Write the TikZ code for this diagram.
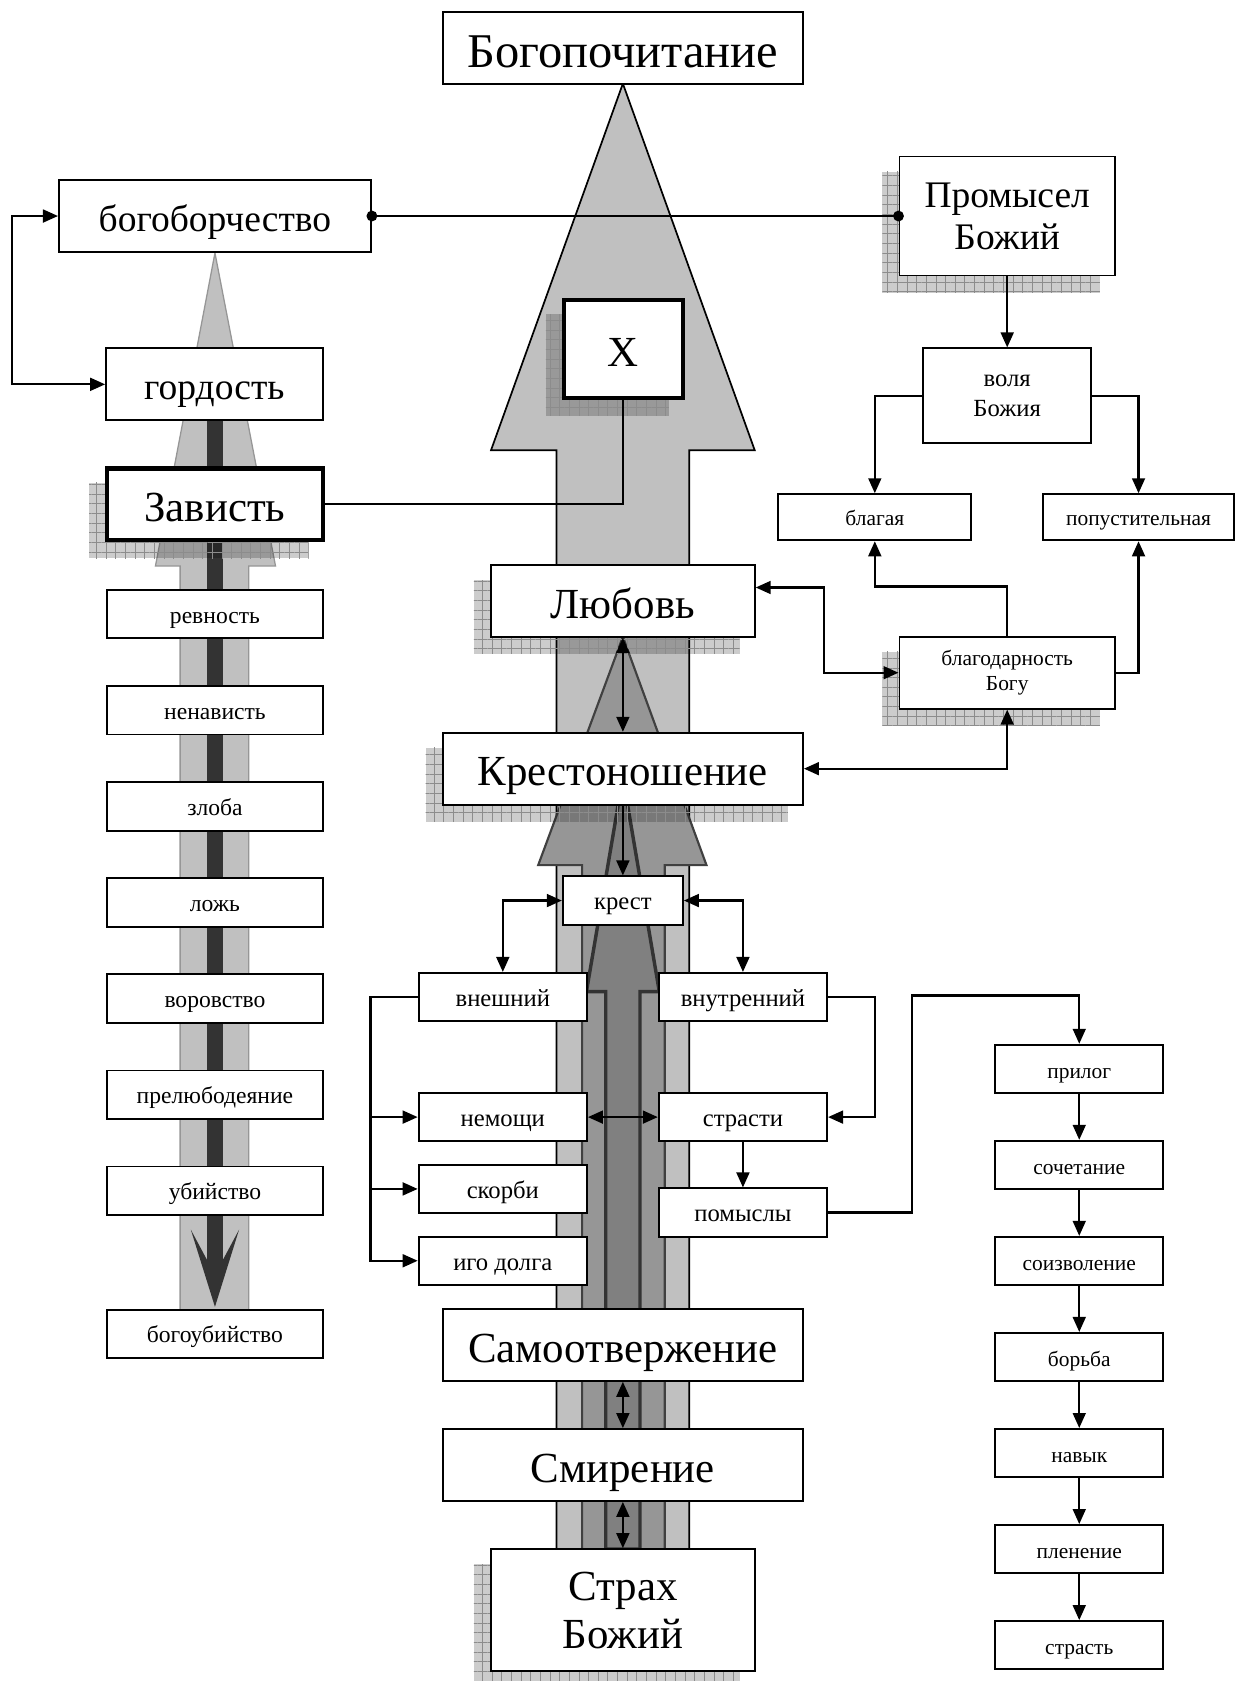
\documentclass[tikz,border=0pt]{standalone}
\usepackage{fontspec}
\setmainfont{Liberation Serif}
\usetikzlibrary{arrows.meta,calc,patterns.meta}

\definecolor{lightarrow}{RGB}{192,192,192}
\definecolor{midarrow}{RGB}{150,150,150}
\definecolor{darkarrow}{RGB}{128,128,128}
\definecolor{midline}{RGB}{64,64,64}
\definecolor{darkline}{RGB}{51,51,51}
\definecolor{leftline}{RGB}{150,150,150}

\pgfdeclarelayer{back}
\pgfdeclarelayer{shade}
\pgfsetlayers{back,shade,main}

\begin{document}
\begin{tikzpicture}[x=0.5pt, y=-0.5pt, >={Triangle[length=7pt,width=6pt]}]
    % Setup the styles for the boxes and lines
    \tikzset{
        plain box/.style={draw, fill=white, line width=0.9pt, inner sep=0pt, align=center},
        two lines/.style={text height=, text depth=},
        main box/.style={plain box, minimum width=168pt, minimum height=33.5pt,
            font=\fontsize{20}{22}\selectfont, text height=19pt, text depth=3pt},
        mid box/.style={plain box, minimum height=33.5pt,
            font=\fontsize{17.5}{19.5}\selectfont, text height=16.6pt, text depth=2.6pt},
        small box/.style={plain box, minimum width=78.5pt, minimum height=22.5pt,
            font=\fontsize{11.5}{14}\selectfont, text height=10.6pt, text depth=1.9pt},
        tiny box/.style={plain box, minimum height=21.5pt,
            font=\fontsize{10}{12}\selectfont, text height=9.3pt, text depth=1.7pt},
        thick box/.style={line width=1.9pt},
        conn/.style={line width=1pt},
        shade fill/.style={fill=black, fill opacity=0.2},
        shade grid/.style={pattern={Hatch[angle=0,distance=4.5pt,line width=0.35pt]},
            pattern color=black!45}}
    \useasboundingbox (0,0) rectangle (1152,1568);

    % Draw the boxes of the middle column
    \node[main box, font=\fontsize{22.6}{24}\selectfont, text height=21.5pt, text depth=3.4pt]
        at (581,45) (bogopoch) {Богопочитание};
    \node[main box, thick box, minimum width=55.5pt, minimum height=45.5pt] at (581.5,325.5) (xbox) {X};
    \node[main box, minimum width=123pt] at (581,560.5) (lyubov) {Любовь};
    \node[main box] at (581,717) (kreston) {Крестоношение};
    \node[small box, minimum width=56pt] at (581,840) (krest) {крест};
    \node[small box] at (469,930) (vneshniy) {внешний};
    \node[small box] at (693,930) (vnutr) {внутренний};
    \node[small box] at (469,1042) (nemoshchi) {немощи};
    \node[small box] at (693,1042) (strasti) {страсти};
    \node[small box] at (469,1109) (skorbi) {скорби};
    \node[small box] at (693,1131) (pomysly) {помыслы};
    \node[small box] at (469,1176) (igo) {иго долга};
    \node[main box] at (581,1254.5) (samootv) {Самоотвержение};
    \node[main box] at (581,1366.5) (smirenie) {Смирение};
    \node[main box, two lines, minimum width=123pt, minimum height=57pt,
        font=\fontsize{20}{22.5}\selectfont] at (581,1502) (strakh) {Страх\\Божий};

    % Draw the boxes of the left column
    \node[mid box, minimum width=145.5pt] at (200.5,201.5) (bogobor) {богоборчество};
    \node[mid box, minimum width=101pt] at (200,358.5) (gordost) {гордость};
    \node[main box, thick box, minimum width=100.5pt] at (200.5,470.5) (zavist) {Зависть};
    \foreach \name/\txt [count=\i from 0] in {revnost/ревность, nenavist/ненависть,
            zloba/злоба, lozh/ложь, vorovstvo/воровство, prelub/прелюбодеяние, ubiystvo/убийство}
        \node[small box, minimum width=101pt, font=\fontsize{11}{13}\selectfont]
            at (200.5,573+89.6*\i) (\name) {\txt};
    \node[small box, minimum width=101pt, font=\fontsize{11}{13}\selectfont] at (200.5,1244) (bogoubiystvo) {богоубийство};

    % Draw the boxes of the right column
    \node[mid box, two lines, minimum width=100.5pt, minimum height=55.5pt] at (939.5,201.5) (promysel) {Промысел\\Божий};
    \node[small box, two lines, minimum height=44pt] at (939.5,369) (volya) {воля\\Божия};
    \node[tiny box, minimum width=90pt] at (816,482.5) (blagaya) {благая};
    \node[tiny box, minimum width=89pt] at (1062,482.5) (popust) {попустительная};
    \node[tiny box, two lines, minimum width=100.5pt, minimum height=33.5pt] at (939.5,627.5) (blagodar) {благодарность\\Богу};
    \foreach \name/\txt [count=\i from 0] in {prilog/прилог, sochet/сочетание, soizvol/соизволение,
            borba/борьба, navyk/навык, plenenie/пленение, strast/страсть}
        \node[small box, font=\fontsize{10}{12}\selectfont] at (1006.7,997+89.6*\i) (\name) {\txt};

    % Draw the big arrows behind the boxes
    \begin{pgfonlayer}{back}
        \filldraw[fill=lightarrow, draw=black, line width=0.8pt]
            (581,78) -- (704,420) -- (643,420) -- (643,1445) -- (519,1445) -- (519,420) -- (458,420) -- cycle;
        \filldraw[fill=midarrow, draw=midline, line width=1pt]
            (581,594) -- (659,807) -- (620,807) -- (620,1445) -- (543,1445) -- (543,807) -- (502,807) -- cycle;
        \filldraw[fill=darkarrow, draw=darkline, line width=1.6pt]
            (581,725) -- (615,925) -- (597,925) -- (597,1445) -- (565,1445) -- (565,925) -- (547,925) -- cycle;
        \filldraw[fill=lightarrow, draw=leftline, line width=0.6pt]
            (200.5,236) -- (257,528) -- (232,528) -- (232,1222) -- (168,1222) -- (168,528) -- (145,528) -- cycle;
        \draw[darkline, line width=7.5pt] (200.5,392) -- (200.5,1176);
        \fill[darkline] (200.5,1219) -- (223,1147) -- (208,1175) -- (193,1175) -- (178,1147) -- cycle;
    \end{pgfonlayer}

    % Draw the hatched shadows
    \begin{pgfonlayer}{shade}
        \foreach \n in {promysel,xbox,zavist,lyubov,kreston,blagodar,strakh} {
            \fill[shade fill] ([shift={(-15,15)}]\n.north west) rectangle ([shift={(-15,15)}]\n.south east);
            \fill[shade grid] ([shift={(-15,15)}]\n.north west) rectangle ([shift={(-15,15)}]\n.south east);
        }
    \end{pgfonlayer}

    % Connect the boxes
    \draw[conn, {Circle[length=5pt]}-{Circle[length=5pt]}, shorten <=-2.5pt, shorten >=-2.5pt]
        (bogobor.east) -- (promysel.west);
    \draw[conn, <->] (gordost.west) -- ++(-87,0) |- (bogobor.west);
    \draw[conn] (zavist.east) -| (xbox.south);
    \draw[conn, ->] (promysel) -- (volya);
    \draw[conn, ->] (volya.west) -| (blagaya.north);
    \draw[conn, ->] (volya.east) -| (popust.north);
    \draw[conn, ->] (blagodar.north) -- ++(0,-46) -| (blagaya.south);
    \draw[conn, ->] (blagodar.east) -| (popust.south);
    \draw[conn, <->] ([yshift=6.25pt]lyubov.east) -- ++(64,0) |- (blagodar.west);
    \draw[conn, <->] (kreston.east) -| (blagodar.south);
    \draw[conn, <->] (lyubov) -- (kreston);
    \draw[conn, ->] (kreston) -- (krest);
    \draw[conn, <->] (krest.west) -| (vneshniy.north);
    \draw[conn, <->] (krest.east) -| (vnutr.north);
    \coordinate (lbus) at ($(vneshniy.west)+(-44,0)$);
    \draw[conn, ->] (vneshniy.west) -- (lbus) |- (igo.west);
    \draw[conn, ->] (lbus |- nemoshchi.west) -- (nemoshchi.west);
    \draw[conn, ->] (lbus |- skorbi.west) -- (skorbi.west);
    \draw[conn, <->] (nemoshchi.east) -- (strasti.west);
    \draw[conn, ->] (vnutr.east) -- ++(44,0) |- (strasti.east);
    \draw[conn, ->] (strasti) -- (pomysly);
    \draw[conn, ->] (pomysly.east) -- ++(78,0) |- ($(prilog.north)+(0,-45)$) -- (prilog.north);
    \foreach \a/\b in {prilog/sochet, sochet/soizvol, soizvol/borba, borba/navyk,
            navyk/plenenie, plenenie/strast}
        \draw[conn, ->] (\a) -- (\b);
    \draw[conn, <->] (samootv) -- (smirenie);
    \draw[conn, <->] (smirenie) -- (strakh);
\end{tikzpicture}
\end{document}
